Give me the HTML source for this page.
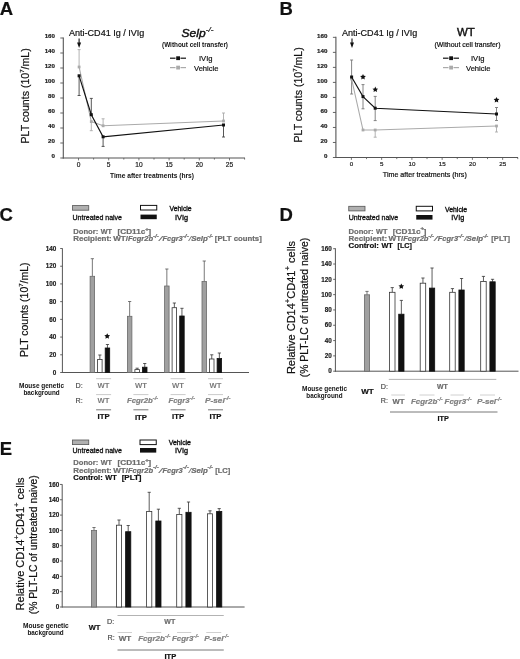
<!DOCTYPE html>
<html><head><meta charset="utf-8"><title>Figure</title>
<style>
html,body{margin:0;padding:0;background:#fff;}
body{width:520px;height:659px;overflow:hidden;}
svg{display:block;font-family:"Liberation Sans", sans-serif;filter:grayscale(100%) blur(0.3px);}
</style></head>
<body>
<svg xml:space="preserve" width="520" height="659" viewBox="0 0 520 659">
<rect width="520" height="659" fill="#fff"/>
<text style="white-space:pre" x="-0.30" y="15.00" font-size="18.5" fill="#111" font-weight="bold" stroke="#111" stroke-width="0.2">A</text>
<line x1="63.30" y1="37.60" x2="63.30" y2="158.50" stroke="#555" stroke-width="1.1"/>
<line x1="60.30" y1="158.00" x2="63.30" y2="158.00" stroke="#555" stroke-width="0.9"/>
<text style="white-space:pre" x="55.00" y="158.40" font-size="6.2" fill="#222" font-weight="bold" text-anchor="end" stroke="#222" stroke-width="0.2">0</text>
<line x1="60.30" y1="143.00" x2="63.30" y2="143.00" stroke="#555" stroke-width="0.9"/>
<text style="white-space:pre" x="55.00" y="143.40" font-size="6.2" fill="#222" font-weight="bold" text-anchor="end" stroke="#222" stroke-width="0.2">20</text>
<line x1="60.30" y1="128.00" x2="63.30" y2="128.00" stroke="#555" stroke-width="0.9"/>
<text style="white-space:pre" x="55.00" y="128.40" font-size="6.2" fill="#222" font-weight="bold" text-anchor="end" stroke="#222" stroke-width="0.2">40</text>
<line x1="60.30" y1="113.00" x2="63.30" y2="113.00" stroke="#555" stroke-width="0.9"/>
<text style="white-space:pre" x="55.00" y="113.40" font-size="6.2" fill="#222" font-weight="bold" text-anchor="end" stroke="#222" stroke-width="0.2">60</text>
<line x1="60.30" y1="98.00" x2="63.30" y2="98.00" stroke="#555" stroke-width="0.9"/>
<text style="white-space:pre" x="55.00" y="98.40" font-size="6.2" fill="#222" font-weight="bold" text-anchor="end" stroke="#222" stroke-width="0.2">80</text>
<line x1="60.30" y1="83.00" x2="63.30" y2="83.00" stroke="#555" stroke-width="0.9"/>
<text style="white-space:pre" x="55.00" y="83.40" font-size="6.2" fill="#222" font-weight="bold" text-anchor="end" stroke="#222" stroke-width="0.2">100</text>
<line x1="60.30" y1="68.00" x2="63.30" y2="68.00" stroke="#555" stroke-width="0.9"/>
<text style="white-space:pre" x="55.00" y="68.40" font-size="6.2" fill="#222" font-weight="bold" text-anchor="end" stroke="#222" stroke-width="0.2">120</text>
<line x1="60.30" y1="53.00" x2="63.30" y2="53.00" stroke="#555" stroke-width="0.9"/>
<text style="white-space:pre" x="55.00" y="53.40" font-size="6.2" fill="#222" font-weight="bold" text-anchor="end" stroke="#222" stroke-width="0.2">140</text>
<line x1="60.30" y1="38.00" x2="63.30" y2="38.00" stroke="#555" stroke-width="0.9"/>
<text style="white-space:pre" x="55.00" y="38.40" font-size="6.2" fill="#222" font-weight="bold" text-anchor="end" stroke="#222" stroke-width="0.2">160</text>
<line x1="62.80" y1="158.00" x2="245.00" y2="158.00" stroke="#555" stroke-width="1.1"/>
<line x1="78.50" y1="158.00" x2="78.50" y2="160.40" stroke="#555" stroke-width="0.8"/>
<text style="white-space:pre" x="78.50" y="166.60" font-size="6.6" fill="#222" text-anchor="middle" stroke="#222" stroke-width="0.2">0</text>
<line x1="93.60" y1="158.00" x2="93.60" y2="159.60" stroke="#555" stroke-width="0.8"/>
<line x1="108.70" y1="158.00" x2="108.70" y2="160.40" stroke="#555" stroke-width="0.8"/>
<text style="white-space:pre" x="108.70" y="166.60" font-size="6.6" fill="#222" text-anchor="middle" stroke="#222" stroke-width="0.2">5</text>
<line x1="123.80" y1="158.00" x2="123.80" y2="159.60" stroke="#555" stroke-width="0.8"/>
<line x1="138.90" y1="158.00" x2="138.90" y2="160.40" stroke="#555" stroke-width="0.8"/>
<text style="white-space:pre" x="138.90" y="166.60" font-size="6.6" fill="#222" text-anchor="middle" stroke="#222" stroke-width="0.2">10</text>
<line x1="154.00" y1="158.00" x2="154.00" y2="159.60" stroke="#555" stroke-width="0.8"/>
<line x1="169.10" y1="158.00" x2="169.10" y2="160.40" stroke="#555" stroke-width="0.8"/>
<text style="white-space:pre" x="169.10" y="166.60" font-size="6.6" fill="#222" text-anchor="middle" stroke="#222" stroke-width="0.2">15</text>
<line x1="184.20" y1="158.00" x2="184.20" y2="159.60" stroke="#555" stroke-width="0.8"/>
<line x1="199.30" y1="158.00" x2="199.30" y2="160.40" stroke="#555" stroke-width="0.8"/>
<text style="white-space:pre" x="199.30" y="166.60" font-size="6.6" fill="#222" text-anchor="middle" stroke="#222" stroke-width="0.2">20</text>
<line x1="214.40" y1="158.00" x2="214.40" y2="159.60" stroke="#555" stroke-width="0.8"/>
<line x1="229.50" y1="158.00" x2="229.50" y2="160.40" stroke="#555" stroke-width="0.8"/>
<text style="white-space:pre" x="229.50" y="166.60" font-size="6.6" fill="#222" text-anchor="middle" stroke="#222" stroke-width="0.2">25</text>
<line x1="244.60" y1="158.00" x2="244.60" y2="159.60" stroke="#555" stroke-width="0.8"/>
<text style="white-space:pre" x="110.00" y="177.70" font-size="6.6" fill="#111" font-weight="bold" textLength="84.00" lengthAdjust="spacingAndGlyphs" stroke-width="0" stroke="#111" stroke-width="0.2">Time after treatments (hrs)</text>
<g transform="translate(28.90,143.50) rotate(-90)">
<text style="white-space:pre" x="0.00" y="0.00" font-size="10.5" fill="#111" textLength="95.20" lengthAdjust="spacingAndGlyphs" stroke="#111" stroke-width="0.2"><tspan>PLT counts (10</tspan><tspan font-size="6.09" dy="-4.73">7</tspan><tspan dy="4.73">/mL)</tspan></text>
</g>
<text style="white-space:pre" x="69.00" y="35.50" font-size="9.2" fill="#111" textLength="75.40" lengthAdjust="spacingAndGlyphs" stroke="#111" stroke-width="0.2">Anti-CD41 Ig / IVIg</text>
<line x1="79.10" y1="38.50" x2="79.10" y2="44.00" stroke="#111" stroke-width="1.1"/>
<polygon points="77.10,42.5 81.10,42.5 79.10,48" fill="#111"/>
<text style="white-space:pre" x="181.60" y="36.50" font-size="11.6" fill="#111" font-style="italic" textLength="24.00" lengthAdjust="spacingAndGlyphs" stroke="#111" stroke-width="0.45">Selp</text>
<text style="white-space:pre" x="205.80" y="32.00" font-size="6.6" fill="#111" font-style="italic" textLength="7.60" lengthAdjust="spacingAndGlyphs" stroke="#111" stroke-width="0.2">-/-</text>
<text style="white-space:pre" x="162.00" y="46.80" font-size="6.4" fill="#111" font-weight="bold" textLength="66.00" lengthAdjust="spacingAndGlyphs" stroke-width="0" stroke="#111" stroke-width="0.2">(Without cell transfer)</text>
<line x1="170.00" y1="58.20" x2="175.50" y2="58.20" stroke="#111" stroke-width="1.2"/>
<line x1="180.50" y1="58.20" x2="186.00" y2="58.20" stroke="#111" stroke-width="1.2"/>
<rect x="176.20" y="56.30" width="3.80" height="3.80" fill="#111"/>
<text style="white-space:pre" x="199.00" y="61.20" font-size="7.6" fill="#111" textLength="13.50" lengthAdjust="spacingAndGlyphs" stroke="#111" stroke-width="0.2">IVIg</text>
<line x1="170.00" y1="67.60" x2="175.50" y2="67.60" stroke="#aaa" stroke-width="1.2"/>
<line x1="180.50" y1="67.60" x2="186.00" y2="67.60" stroke="#aaa" stroke-width="1.2"/>
<rect x="176.20" y="65.70" width="3.80" height="3.80" fill="#aaa"/>
<text style="white-space:pre" x="194.00" y="70.60" font-size="7.6" fill="#111" textLength="24.50" lengthAdjust="spacingAndGlyphs" stroke="#111" stroke-width="0.2">Vehicle</text>
<line x1="79.10" y1="67.00" x2="79.10" y2="49.60" stroke="#aaa" stroke-width="0.9"/>
<line x1="77.60" y1="49.60" x2="80.60" y2="49.60" stroke="#aaa" stroke-width="0.9"/>
<line x1="91.30" y1="121.60" x2="91.30" y2="130.70" stroke="#aaa" stroke-width="0.9"/>
<line x1="89.80" y1="130.70" x2="92.80" y2="130.70" stroke="#aaa" stroke-width="0.9"/>
<line x1="103.10" y1="125.80" x2="103.10" y2="118.80" stroke="#aaa" stroke-width="0.9"/>
<line x1="101.60" y1="118.80" x2="104.60" y2="118.80" stroke="#aaa" stroke-width="0.9"/>
<line x1="223.50" y1="121.00" x2="223.50" y2="113.00" stroke="#aaa" stroke-width="0.9"/>
<line x1="222.00" y1="113.00" x2="225.00" y2="113.00" stroke="#aaa" stroke-width="0.9"/>
<line x1="79.10" y1="75.80" x2="79.10" y2="95.50" stroke="#444" stroke-width="0.9"/>
<line x1="77.60" y1="95.50" x2="80.60" y2="95.50" stroke="#444" stroke-width="0.9"/>
<line x1="91.30" y1="114.70" x2="91.30" y2="98.40" stroke="#444" stroke-width="0.9"/>
<line x1="89.80" y1="98.40" x2="92.80" y2="98.40" stroke="#444" stroke-width="0.9"/>
<line x1="103.10" y1="136.80" x2="103.10" y2="146.40" stroke="#444" stroke-width="0.9"/>
<line x1="101.60" y1="146.40" x2="104.60" y2="146.40" stroke="#444" stroke-width="0.9"/>
<line x1="223.50" y1="125.00" x2="223.50" y2="137.00" stroke="#444" stroke-width="0.9"/>
<line x1="222.00" y1="137.00" x2="225.00" y2="137.00" stroke="#444" stroke-width="0.9"/>
<polyline points="79.10,67.00 91.30,121.60 103.10,125.80 223.50,121.00" fill="none" stroke="#aaa" stroke-width="1.1"/>
<rect x="77.70" y="65.60" width="2.80" height="2.80" fill="#aaa"/>
<rect x="89.90" y="120.20" width="2.80" height="2.80" fill="#aaa"/>
<rect x="101.70" y="124.40" width="2.80" height="2.80" fill="#aaa"/>
<rect x="222.10" y="119.60" width="2.80" height="2.80" fill="#aaa"/>
<polyline points="79.10,75.80 91.30,114.70 103.10,136.80 223.50,125.00" fill="none" stroke="#111" stroke-width="1.15"/>
<rect x="77.60" y="74.30" width="3.00" height="3.00" fill="#111"/>
<rect x="89.80" y="113.20" width="3.00" height="3.00" fill="#111"/>
<rect x="101.60" y="135.30" width="3.00" height="3.00" fill="#111"/>
<rect x="222.00" y="123.50" width="3.00" height="3.00" fill="#111"/>
<text style="white-space:pre" x="279.50" y="14.70" font-size="18.5" fill="#111" font-weight="bold" stroke="#111" stroke-width="0.2">B</text>
<line x1="335.90" y1="36.80" x2="335.90" y2="158.00" stroke="#555" stroke-width="1.1"/>
<line x1="332.90" y1="157.50" x2="335.90" y2="157.50" stroke="#555" stroke-width="0.9"/>
<text style="white-space:pre" x="327.40" y="157.90" font-size="6.2" fill="#222" font-weight="bold" text-anchor="end" stroke="#222" stroke-width="0.2">0</text>
<line x1="332.90" y1="142.48" x2="335.90" y2="142.48" stroke="#555" stroke-width="0.9"/>
<text style="white-space:pre" x="327.40" y="142.88" font-size="6.2" fill="#222" font-weight="bold" text-anchor="end" stroke="#222" stroke-width="0.2">20</text>
<line x1="332.90" y1="127.46" x2="335.90" y2="127.46" stroke="#555" stroke-width="0.9"/>
<text style="white-space:pre" x="327.40" y="127.86" font-size="6.2" fill="#222" font-weight="bold" text-anchor="end" stroke="#222" stroke-width="0.2">40</text>
<line x1="332.90" y1="112.44" x2="335.90" y2="112.44" stroke="#555" stroke-width="0.9"/>
<text style="white-space:pre" x="327.40" y="112.84" font-size="6.2" fill="#222" font-weight="bold" text-anchor="end" stroke="#222" stroke-width="0.2">60</text>
<line x1="332.90" y1="97.42" x2="335.90" y2="97.42" stroke="#555" stroke-width="0.9"/>
<text style="white-space:pre" x="327.40" y="97.82" font-size="6.2" fill="#222" font-weight="bold" text-anchor="end" stroke="#222" stroke-width="0.2">80</text>
<line x1="332.90" y1="82.40" x2="335.90" y2="82.40" stroke="#555" stroke-width="0.9"/>
<text style="white-space:pre" x="327.40" y="82.80" font-size="6.2" fill="#222" font-weight="bold" text-anchor="end" stroke="#222" stroke-width="0.2">100</text>
<line x1="332.90" y1="67.38" x2="335.90" y2="67.38" stroke="#555" stroke-width="0.9"/>
<text style="white-space:pre" x="327.40" y="67.78" font-size="6.2" fill="#222" font-weight="bold" text-anchor="end" stroke="#222" stroke-width="0.2">120</text>
<line x1="332.90" y1="52.36" x2="335.90" y2="52.36" stroke="#555" stroke-width="0.9"/>
<text style="white-space:pre" x="327.40" y="52.76" font-size="6.2" fill="#222" font-weight="bold" text-anchor="end" stroke="#222" stroke-width="0.2">140</text>
<line x1="332.90" y1="37.34" x2="335.90" y2="37.34" stroke="#555" stroke-width="0.9"/>
<text style="white-space:pre" x="327.40" y="37.74" font-size="6.2" fill="#222" font-weight="bold" text-anchor="end" stroke="#222" stroke-width="0.2">160</text>
<line x1="335.40" y1="157.50" x2="518.00" y2="157.50" stroke="#555" stroke-width="1.1"/>
<line x1="351.40" y1="157.50" x2="351.40" y2="159.90" stroke="#555" stroke-width="0.8"/>
<text style="white-space:pre" x="351.40" y="166.10" font-size="6.2" fill="#222" text-anchor="middle" stroke="#222" stroke-width="0.2">0</text>
<line x1="366.52" y1="157.50" x2="366.52" y2="159.10" stroke="#555" stroke-width="0.8"/>
<line x1="381.65" y1="157.50" x2="381.65" y2="159.90" stroke="#555" stroke-width="0.8"/>
<text style="white-space:pre" x="381.65" y="166.10" font-size="6.2" fill="#222" text-anchor="middle" stroke="#222" stroke-width="0.2">5</text>
<line x1="396.77" y1="157.50" x2="396.77" y2="159.10" stroke="#555" stroke-width="0.8"/>
<line x1="411.90" y1="157.50" x2="411.90" y2="159.90" stroke="#555" stroke-width="0.8"/>
<text style="white-space:pre" x="411.90" y="166.10" font-size="6.2" fill="#222" text-anchor="middle" stroke="#222" stroke-width="0.2">10</text>
<line x1="427.02" y1="157.50" x2="427.02" y2="159.10" stroke="#555" stroke-width="0.8"/>
<line x1="442.15" y1="157.50" x2="442.15" y2="159.90" stroke="#555" stroke-width="0.8"/>
<text style="white-space:pre" x="442.15" y="166.10" font-size="6.2" fill="#222" text-anchor="middle" stroke="#222" stroke-width="0.2">15</text>
<line x1="457.27" y1="157.50" x2="457.27" y2="159.10" stroke="#555" stroke-width="0.8"/>
<line x1="472.40" y1="157.50" x2="472.40" y2="159.90" stroke="#555" stroke-width="0.8"/>
<text style="white-space:pre" x="472.40" y="166.10" font-size="6.2" fill="#222" text-anchor="middle" stroke="#222" stroke-width="0.2">20</text>
<line x1="487.52" y1="157.50" x2="487.52" y2="159.10" stroke="#555" stroke-width="0.8"/>
<line x1="502.65" y1="157.50" x2="502.65" y2="159.90" stroke="#555" stroke-width="0.8"/>
<text style="white-space:pre" x="502.65" y="166.10" font-size="6.2" fill="#222" text-anchor="middle" stroke="#222" stroke-width="0.2">25</text>
<line x1="517.77" y1="157.50" x2="517.77" y2="159.10" stroke="#555" stroke-width="0.8"/>
<text style="white-space:pre" x="382.80" y="177.20" font-size="7.0" fill="#111" textLength="84.00" lengthAdjust="spacingAndGlyphs" stroke="#111" stroke-width="0.2">Time after treatments (hrs)</text>
<g transform="translate(301.90,142.50) rotate(-90)">
<text style="white-space:pre" x="0.00" y="0.00" font-size="10.5" fill="#111" textLength="95.20" lengthAdjust="spacingAndGlyphs" stroke="#111" stroke-width="0.2"><tspan>PLT counts (10</tspan><tspan font-size="6.09" dy="-4.73">7</tspan><tspan dy="4.73">/mL)</tspan></text>
</g>
<text style="white-space:pre" x="342.00" y="35.50" font-size="9.2" fill="#111" textLength="75.40" lengthAdjust="spacingAndGlyphs" stroke="#111" stroke-width="0.2">Anti-CD41 Ig / IVIg</text>
<line x1="352.00" y1="38.50" x2="352.00" y2="44.00" stroke="#111" stroke-width="1.1"/>
<polygon points="350.00,42.5 354.00,42.5 352.00,48" fill="#111"/>
<text style="white-space:pre" x="457.00" y="36.30" font-size="11.8" fill="#111" textLength="17.80" lengthAdjust="spacingAndGlyphs" stroke="#111" stroke-width="0.45">WT</text>
<text style="white-space:pre" x="434.50" y="46.80" font-size="7.0" fill="#111" textLength="66.00" lengthAdjust="spacingAndGlyphs" stroke="#111" stroke-width="0.2">(Without cell transfer)</text>
<line x1="443.00" y1="58.20" x2="448.50" y2="58.20" stroke="#111" stroke-width="1.2"/>
<line x1="453.50" y1="58.20" x2="459.00" y2="58.20" stroke="#111" stroke-width="1.2"/>
<rect x="449.20" y="56.30" width="3.80" height="3.80" fill="#111"/>
<text style="white-space:pre" x="471.00" y="61.20" font-size="7.6" fill="#111" textLength="13.50" lengthAdjust="spacingAndGlyphs" stroke="#111" stroke-width="0.2">IVIg</text>
<line x1="443.00" y1="67.60" x2="448.50" y2="67.60" stroke="#aaa" stroke-width="1.2"/>
<line x1="453.50" y1="67.60" x2="459.00" y2="67.60" stroke="#aaa" stroke-width="1.2"/>
<rect x="449.20" y="65.70" width="3.80" height="3.80" fill="#aaa"/>
<text style="white-space:pre" x="466.00" y="70.60" font-size="7.6" fill="#111" textLength="24.50" lengthAdjust="spacingAndGlyphs" stroke="#111" stroke-width="0.2">Vehicle</text>
<line x1="375.20" y1="130.00" x2="375.20" y2="137.20" stroke="#aaa" stroke-width="0.9"/>
<line x1="373.70" y1="137.20" x2="376.70" y2="137.20" stroke="#aaa" stroke-width="0.9"/>
<line x1="496.50" y1="126.00" x2="496.50" y2="132.00" stroke="#aaa" stroke-width="0.9"/>
<line x1="495.00" y1="132.00" x2="498.00" y2="132.00" stroke="#aaa" stroke-width="0.9"/>
<line x1="351.60" y1="60.00" x2="351.60" y2="94.00" stroke="#777" stroke-width="0.9"/>
<line x1="350.10" y1="94.00" x2="353.10" y2="94.00" stroke="#777" stroke-width="0.9"/>
<line x1="350.10" y1="60.00" x2="353.10" y2="60.00" stroke="#777" stroke-width="0.9"/>
<line x1="363.00" y1="84.60" x2="363.00" y2="108.80" stroke="#777" stroke-width="0.9"/>
<line x1="361.50" y1="108.80" x2="364.50" y2="108.80" stroke="#777" stroke-width="0.9"/>
<line x1="361.50" y1="84.60" x2="364.50" y2="84.60" stroke="#777" stroke-width="0.9"/>
<line x1="375.20" y1="96.40" x2="375.20" y2="120.60" stroke="#777" stroke-width="0.9"/>
<line x1="373.70" y1="120.60" x2="376.70" y2="120.60" stroke="#777" stroke-width="0.9"/>
<line x1="373.70" y1="96.40" x2="376.70" y2="96.40" stroke="#777" stroke-width="0.9"/>
<line x1="496.50" y1="107.50" x2="496.50" y2="120.50" stroke="#777" stroke-width="0.9"/>
<line x1="495.00" y1="120.50" x2="498.00" y2="120.50" stroke="#777" stroke-width="0.9"/>
<line x1="495.00" y1="107.50" x2="498.00" y2="107.50" stroke="#777" stroke-width="0.9"/>
<polyline points="351.60,79.00 363.00,130.00 375.20,130.00 496.50,126.00" fill="none" stroke="#aaa" stroke-width="1.1"/>
<rect x="350.20" y="77.60" width="2.80" height="2.80" fill="#aaa"/>
<rect x="361.60" y="128.60" width="2.80" height="2.80" fill="#aaa"/>
<rect x="373.80" y="128.60" width="2.80" height="2.80" fill="#aaa"/>
<rect x="495.10" y="124.60" width="2.80" height="2.80" fill="#aaa"/>
<polyline points="351.60,77.00 363.00,96.60 375.20,108.20 496.50,114.00" fill="none" stroke="#111" stroke-width="1.15"/>
<rect x="350.10" y="75.50" width="3.00" height="3.00" fill="#111"/>
<rect x="361.50" y="95.10" width="3.00" height="3.00" fill="#111"/>
<rect x="373.70" y="106.70" width="3.00" height="3.00" fill="#111"/>
<rect x="495.00" y="112.50" width="3.00" height="3.00" fill="#111"/>
<polygon points="363.00,74.00 363.88,75.79 365.85,76.07 364.43,77.46 364.76,79.43 363.00,78.50 361.24,79.43 361.57,77.46 360.15,76.07 362.12,75.79" fill="#111"/>
<polygon points="375.30,86.60 376.18,88.39 378.15,88.67 376.73,90.06 377.06,92.03 375.30,91.10 373.54,92.03 373.87,90.06 372.45,88.67 374.42,88.39" fill="#111"/>
<polygon points="496.50,97.00 497.38,98.79 499.35,99.07 497.93,100.46 498.26,102.43 496.50,101.50 494.74,102.43 495.07,100.46 493.65,99.07 495.62,98.79" fill="#111"/>
<text style="white-space:pre" x="-0.40" y="220.50" font-size="18.5" fill="#111" font-weight="bold" stroke="#111" stroke-width="0.2">C</text>
<rect x="72.50" y="205.60" width="16.25" height="4.60" fill="#b0b0b0" stroke="#555" stroke-width="0.8"/>
<text style="white-space:pre" x="72.50" y="219.60" font-size="7.1" fill="#111" textLength="49.50" lengthAdjust="spacingAndGlyphs" stroke="#111" stroke-width="0.3">Untreated naive</text>
<rect x="140.50" y="205.40" width="16.25" height="4.60" fill="#fff" stroke="#111" stroke-width="1.0"/>
<text style="white-space:pre" x="169.50" y="210.50" font-size="7.0" fill="#111" textLength="22.20" lengthAdjust="spacingAndGlyphs" stroke="#111" stroke-width="0.35">Vehicle</text>
<rect x="140.50" y="214.60" width="16.25" height="4.60" fill="#111"/>
<text style="white-space:pre" x="175.00" y="219.60" font-size="7.0" fill="#111" textLength="13.00" lengthAdjust="spacingAndGlyphs" stroke="#111" stroke-width="0.35">IVIg</text>
<text style="white-space:pre" x="73.25" y="233.80" font-size="7.2" fill="#6c6c6c" font-weight="bold" textLength="25.00" lengthAdjust="spacingAndGlyphs" stroke="#6c6c6c" stroke-width="0.2">Donor:</text>
<text style="white-space:pre" x="100.75" y="233.80" font-size="7.2" fill="#6c6c6c" font-weight="bold" textLength="11.30" lengthAdjust="spacingAndGlyphs" stroke="#6c6c6c" stroke-width="0.2">WT</text>
<text style="white-space:pre" x="117.55" y="233.80" font-size="7.2" fill="#6c6c6c" font-weight="bold" textLength="27.80" lengthAdjust="spacingAndGlyphs" stroke="#6c6c6c" stroke-width="0.2">[CD11c</text>
<text style="white-space:pre" x="145.25" y="230.63" font-size="4.9" fill="#6c6c6c" font-weight="bold" textLength="3.50" lengthAdjust="spacingAndGlyphs" stroke="#6c6c6c" stroke-width="0.2">+</text>
<text style="white-space:pre" x="148.25" y="233.80" font-size="7.2" fill="#6c6c6c" font-weight="bold" textLength="2.90" lengthAdjust="spacingAndGlyphs" stroke="#6c6c6c" stroke-width="0.2">]</text>
<text style="white-space:pre" x="73.25" y="240.90" font-size="7.2" fill="#6c6c6c" font-weight="bold" textLength="38.50" lengthAdjust="spacingAndGlyphs" stroke="#6c6c6c" stroke-width="0.2">Recipient:</text>
<text style="white-space:pre" x="113.25" y="240.90" font-size="7.2" fill="#6c6c6c" font-weight="bold" textLength="14.80" lengthAdjust="spacingAndGlyphs" stroke="#6c6c6c" stroke-width="0.2">WT/</text>
<text style="white-space:pre" x="127.95" y="240.90" font-size="7.2" fill="#6c6c6c" font-weight="bold" font-style="italic" textLength="25.20" lengthAdjust="spacingAndGlyphs" stroke="#6c6c6c" stroke-width="0.2">Fcgr2b</text>
<text style="white-space:pre" x="152.95" y="237.73" font-size="4.9" fill="#6c6c6c" font-weight="bold" font-style="italic" textLength="5.90" lengthAdjust="spacingAndGlyphs" stroke="#6c6c6c" stroke-width="0.2">-/-</text>
<text style="white-space:pre" x="159.05" y="240.90" font-size="7.2" fill="#6c6c6c" font-style="italic" textLength="3.30" lengthAdjust="spacingAndGlyphs" stroke="#6c6c6c" stroke-width="0.2">/</text>
<text style="white-space:pre" x="162.45" y="240.90" font-size="7.2" fill="#6c6c6c" font-weight="bold" font-style="italic" textLength="20.30" lengthAdjust="spacingAndGlyphs" stroke="#6c6c6c" stroke-width="0.2">Fcgr3</text>
<text style="white-space:pre" x="182.65" y="237.73" font-size="4.9" fill="#6c6c6c" font-weight="bold" font-style="italic" textLength="6.20" lengthAdjust="spacingAndGlyphs" stroke="#6c6c6c" stroke-width="0.2">-/-</text>
<text style="white-space:pre" x="188.85" y="240.90" font-size="7.2" fill="#6c6c6c" font-style="italic" textLength="2.50" lengthAdjust="spacingAndGlyphs" stroke="#6c6c6c" stroke-width="0.2">/</text>
<text style="white-space:pre" x="191.25" y="240.90" font-size="7.2" fill="#6c6c6c" font-weight="bold" font-style="italic" textLength="16.60" lengthAdjust="spacingAndGlyphs" stroke="#6c6c6c" stroke-width="0.2">Selp</text>
<text style="white-space:pre" x="207.45" y="237.73" font-size="4.9" fill="#6c6c6c" font-weight="bold" font-style="italic" textLength="5.60" lengthAdjust="spacingAndGlyphs" stroke="#6c6c6c" stroke-width="0.2">-/-</text>
<text style="white-space:pre" x="214.85" y="240.90" font-size="7.2" fill="#6c6c6c" font-weight="bold" textLength="46.90" lengthAdjust="spacingAndGlyphs" stroke="#6c6c6c" stroke-width="0.2">[PLT counts]</text>
<line x1="62.40" y1="248.30" x2="62.40" y2="373.00" stroke="#555" stroke-width="1.0"/>
<line x1="60.20" y1="372.50" x2="62.40" y2="372.50" stroke="#555" stroke-width="0.9"/>
<text style="white-space:pre" x="56.30" y="374.70" font-size="6.3" fill="#222" font-weight="bold" text-anchor="end" stroke="#222" stroke-width="0.2">0</text>
<line x1="60.20" y1="354.79" x2="62.40" y2="354.79" stroke="#555" stroke-width="0.9"/>
<text style="white-space:pre" x="56.30" y="356.99" font-size="6.3" fill="#222" font-weight="bold" text-anchor="end" stroke="#222" stroke-width="0.2">20</text>
<line x1="60.20" y1="337.07" x2="62.40" y2="337.07" stroke="#555" stroke-width="0.9"/>
<text style="white-space:pre" x="56.30" y="339.27" font-size="6.3" fill="#222" font-weight="bold" text-anchor="end" stroke="#222" stroke-width="0.2">40</text>
<line x1="60.20" y1="319.36" x2="62.40" y2="319.36" stroke="#555" stroke-width="0.9"/>
<text style="white-space:pre" x="56.30" y="321.56" font-size="6.3" fill="#222" font-weight="bold" text-anchor="end" stroke="#222" stroke-width="0.2">60</text>
<line x1="60.20" y1="301.64" x2="62.40" y2="301.64" stroke="#555" stroke-width="0.9"/>
<text style="white-space:pre" x="56.30" y="303.84" font-size="6.3" fill="#222" font-weight="bold" text-anchor="end" stroke="#222" stroke-width="0.2">80</text>
<line x1="60.20" y1="283.93" x2="62.40" y2="283.93" stroke="#555" stroke-width="0.9"/>
<text style="white-space:pre" x="56.30" y="286.13" font-size="6.3" fill="#222" font-weight="bold" text-anchor="end" stroke="#222" stroke-width="0.2">100</text>
<line x1="60.20" y1="266.22" x2="62.40" y2="266.22" stroke="#555" stroke-width="0.9"/>
<text style="white-space:pre" x="56.30" y="268.42" font-size="6.3" fill="#222" font-weight="bold" text-anchor="end" stroke="#222" stroke-width="0.2">120</text>
<line x1="60.20" y1="248.50" x2="62.40" y2="248.50" stroke="#555" stroke-width="0.9"/>
<text style="white-space:pre" x="56.30" y="250.70" font-size="6.3" fill="#222" font-weight="bold" text-anchor="end" stroke="#222" stroke-width="0.2">140</text>
<line x1="62.00" y1="372.50" x2="249.00" y2="372.50" stroke="#555" stroke-width="1.0"/>
<g transform="translate(28.10,356.90) rotate(-90)">
<text style="white-space:pre" x="0.00" y="0.00" font-size="10.5" fill="#111" textLength="94.50" lengthAdjust="spacingAndGlyphs" stroke="#111" stroke-width="0.2"><tspan>PLT counts (10</tspan><tspan font-size="6.09" dy="-4.73">7</tspan><tspan dy="4.73">/mL)</tspan></text>
</g>
<line x1="92.35" y1="258.70" x2="92.35" y2="276.30" stroke="#555" stroke-width="0.8"/>
<line x1="90.75" y1="258.70" x2="93.95" y2="258.70" stroke="#555" stroke-width="0.8"/>
<rect x="90.10" y="276.30" width="4.50" height="96.20" fill="#a0a0a0" stroke="#6a6a6a" stroke-width="0.8"/>
<line x1="99.85" y1="355.00" x2="99.85" y2="359.50" stroke="#333" stroke-width="0.8"/>
<line x1="98.25" y1="355.00" x2="101.45" y2="355.00" stroke="#333" stroke-width="0.8"/>
<rect x="97.60" y="359.50" width="4.50" height="13.00" fill="#fff" stroke="#333" stroke-width="0.8"/>
<line x1="107.45" y1="344.50" x2="107.45" y2="348.00" stroke="#333" stroke-width="0.8"/>
<line x1="105.85" y1="344.50" x2="109.05" y2="344.50" stroke="#333" stroke-width="0.8"/>
<rect x="105.20" y="348.00" width="4.50" height="24.50" fill="#111" stroke="#111" stroke-width="0.8"/>
<line x1="129.65" y1="301.50" x2="129.65" y2="316.30" stroke="#555" stroke-width="0.8"/>
<line x1="128.05" y1="301.50" x2="131.25" y2="301.50" stroke="#555" stroke-width="0.8"/>
<rect x="127.40" y="316.30" width="4.50" height="56.20" fill="#a0a0a0" stroke="#6a6a6a" stroke-width="0.8"/>
<line x1="137.15" y1="368.20" x2="137.15" y2="369.60" stroke="#333" stroke-width="0.8"/>
<line x1="135.55" y1="368.20" x2="138.75" y2="368.20" stroke="#333" stroke-width="0.8"/>
<rect x="134.90" y="369.60" width="4.50" height="2.90" fill="#fff" stroke="#333" stroke-width="0.8"/>
<line x1="144.75" y1="363.50" x2="144.75" y2="367.20" stroke="#333" stroke-width="0.8"/>
<line x1="143.15" y1="363.50" x2="146.35" y2="363.50" stroke="#333" stroke-width="0.8"/>
<rect x="142.50" y="367.20" width="4.50" height="5.30" fill="#111" stroke="#111" stroke-width="0.8"/>
<line x1="166.85" y1="269.00" x2="166.85" y2="286.00" stroke="#555" stroke-width="0.8"/>
<line x1="165.25" y1="269.00" x2="168.45" y2="269.00" stroke="#555" stroke-width="0.8"/>
<rect x="164.60" y="286.00" width="4.50" height="86.50" fill="#a0a0a0" stroke="#6a6a6a" stroke-width="0.8"/>
<line x1="174.35" y1="303.00" x2="174.35" y2="307.70" stroke="#333" stroke-width="0.8"/>
<line x1="172.75" y1="303.00" x2="175.95" y2="303.00" stroke="#333" stroke-width="0.8"/>
<rect x="172.10" y="307.70" width="4.50" height="64.80" fill="#fff" stroke="#333" stroke-width="0.8"/>
<line x1="181.95" y1="308.30" x2="181.95" y2="316.00" stroke="#333" stroke-width="0.8"/>
<line x1="180.35" y1="308.30" x2="183.55" y2="308.30" stroke="#333" stroke-width="0.8"/>
<rect x="179.70" y="316.00" width="4.50" height="56.50" fill="#111" stroke="#111" stroke-width="0.8"/>
<line x1="204.25" y1="261.00" x2="204.25" y2="281.50" stroke="#555" stroke-width="0.8"/>
<line x1="202.65" y1="261.00" x2="205.85" y2="261.00" stroke="#555" stroke-width="0.8"/>
<rect x="202.00" y="281.50" width="4.50" height="91.00" fill="#a0a0a0" stroke="#6a6a6a" stroke-width="0.8"/>
<line x1="211.75" y1="354.80" x2="211.75" y2="359.00" stroke="#333" stroke-width="0.8"/>
<line x1="210.15" y1="354.80" x2="213.35" y2="354.80" stroke="#333" stroke-width="0.8"/>
<rect x="209.50" y="359.00" width="4.50" height="13.50" fill="#fff" stroke="#333" stroke-width="0.8"/>
<line x1="219.35" y1="353.00" x2="219.35" y2="358.50" stroke="#333" stroke-width="0.8"/>
<line x1="217.75" y1="353.00" x2="220.95" y2="353.00" stroke="#333" stroke-width="0.8"/>
<rect x="217.10" y="358.50" width="4.50" height="14.00" fill="#111" stroke="#111" stroke-width="0.8"/>
<polygon points="107.20,333.30 108.08,335.09 110.05,335.37 108.63,336.76 108.96,338.73 107.20,337.80 105.44,338.73 105.77,336.76 104.35,335.37 106.32,335.09" fill="#111"/>
<text style="white-space:pre" x="41.50" y="388.40" font-size="6.6" fill="#111" font-weight="bold" text-anchor="middle" textLength="45.00" lengthAdjust="spacingAndGlyphs" stroke-width="0" stroke="#111" stroke-width="0.2">Mouse genetic</text>
<text style="white-space:pre" x="41.60" y="395.00" font-size="6.6" fill="#111" font-weight="bold" text-anchor="middle" textLength="36.20" lengthAdjust="spacingAndGlyphs" stroke-width="0" stroke="#111" stroke-width="0.2">background</text>
<text style="white-space:pre" x="75.60" y="388.30" font-size="7.4" fill="#4a4a4a" textLength="7.20" lengthAdjust="spacingAndGlyphs" stroke="#4a4a4a" stroke-width="0.2">D:</text>
<text style="white-space:pre" x="75.60" y="402.90" font-size="7.4" fill="#4a4a4a" textLength="7.20" lengthAdjust="spacingAndGlyphs" stroke="#4a4a4a" stroke-width="0.2">R:</text>
<line x1="96.10" y1="378.70" x2="111.10" y2="378.70" stroke="#bbb" stroke-width="0.8"/>
<line x1="96.10" y1="394.60" x2="111.10" y2="394.60" stroke="#bbb" stroke-width="0.8"/>
<line x1="96.10" y1="409.80" x2="111.10" y2="409.80" stroke="#555" stroke-width="0.8"/>
<text style="white-space:pre" x="103.60" y="388.30" font-size="7.6" fill="#7a7a7a" font-weight="bold" text-anchor="middle" textLength="12.00" lengthAdjust="spacingAndGlyphs" stroke-width="0" stroke="#7a7a7a" stroke-width="0.2">WT</text>
<text style="white-space:pre" x="103.60" y="402.90" font-size="7.6" fill="#7a7a7a" font-weight="bold" text-anchor="middle" textLength="12.00" lengthAdjust="spacingAndGlyphs" stroke-width="0" stroke="#7a7a7a" stroke-width="0.2">WT</text>
<text style="white-space:pre" x="103.60" y="418.60" font-size="7.6" fill="#111" font-weight="bold" text-anchor="middle" textLength="12.00" lengthAdjust="spacingAndGlyphs" stroke="#111" stroke-width="0.2">ITP</text>
<line x1="133.40" y1="378.70" x2="148.40" y2="378.70" stroke="#bbb" stroke-width="0.8"/>
<line x1="133.40" y1="394.60" x2="148.40" y2="394.60" stroke="#bbb" stroke-width="0.8"/>
<line x1="133.40" y1="409.80" x2="148.40" y2="409.80" stroke="#555" stroke-width="0.8"/>
<text style="white-space:pre" x="140.90" y="388.30" font-size="7.6" fill="#7a7a7a" font-weight="bold" text-anchor="middle" textLength="12.00" lengthAdjust="spacingAndGlyphs" stroke-width="0" stroke="#7a7a7a" stroke-width="0.2">WT</text>
<text style="white-space:pre" x="126.90" y="403.30" font-size="7.4" fill="#808080" textLength="31.20" lengthAdjust="spacingAndGlyphs" stroke="#808080" stroke-width="0.2"><tspan font-weight="bold" font-style="italic">Fcgr2b</tspan><tspan font-weight="bold" font-style="italic" font-size="5.33" dy="-3.11">-/-</tspan></text>
<text style="white-space:pre" x="140.90" y="420.10" font-size="7.6" fill="#111" font-weight="bold" text-anchor="middle" textLength="12.00" lengthAdjust="spacingAndGlyphs" stroke="#111" stroke-width="0.2">ITP</text>
<line x1="170.60" y1="378.70" x2="185.60" y2="378.70" stroke="#bbb" stroke-width="0.8"/>
<line x1="170.60" y1="394.60" x2="185.60" y2="394.60" stroke="#bbb" stroke-width="0.8"/>
<line x1="170.60" y1="409.80" x2="185.60" y2="409.80" stroke="#555" stroke-width="0.8"/>
<text style="white-space:pre" x="178.10" y="388.30" font-size="7.6" fill="#7a7a7a" font-weight="bold" text-anchor="middle" textLength="12.00" lengthAdjust="spacingAndGlyphs" stroke-width="0" stroke="#7a7a7a" stroke-width="0.2">WT</text>
<text style="white-space:pre" x="168.50" y="403.30" font-size="7.4" fill="#808080" textLength="26.50" lengthAdjust="spacingAndGlyphs" stroke="#808080" stroke-width="0.2"><tspan font-weight="bold" font-style="italic">Fcgr3</tspan><tspan font-weight="bold" font-style="italic" font-size="5.33" dy="-3.11">-/-</tspan></text>
<text style="white-space:pre" x="178.10" y="418.60" font-size="7.6" fill="#111" font-weight="bold" text-anchor="middle" textLength="12.00" lengthAdjust="spacingAndGlyphs" stroke="#111" stroke-width="0.2">ITP</text>
<line x1="208.00" y1="378.70" x2="223.00" y2="378.70" stroke="#bbb" stroke-width="0.8"/>
<line x1="208.00" y1="394.60" x2="223.00" y2="394.60" stroke="#bbb" stroke-width="0.8"/>
<line x1="208.00" y1="409.80" x2="223.00" y2="409.80" stroke="#555" stroke-width="0.8"/>
<text style="white-space:pre" x="215.50" y="388.30" font-size="7.6" fill="#7a7a7a" font-weight="bold" text-anchor="middle" textLength="12.00" lengthAdjust="spacingAndGlyphs" stroke-width="0" stroke="#7a7a7a" stroke-width="0.2">WT</text>
<text style="white-space:pre" x="205.00" y="403.30" font-size="7.4" fill="#808080" textLength="25.40" lengthAdjust="spacingAndGlyphs" stroke="#808080" stroke-width="0.2"><tspan font-weight="bold" font-style="italic">P-sel</tspan><tspan font-weight="bold" font-style="italic" font-size="5.33" dy="-3.11">-/-</tspan></text>
<text style="white-space:pre" x="215.50" y="418.60" font-size="7.6" fill="#111" font-weight="bold" text-anchor="middle" textLength="12.00" lengthAdjust="spacingAndGlyphs" stroke="#111" stroke-width="0.2">ITP</text>
<text style="white-space:pre" x="279.60" y="220.50" font-size="18.5" fill="#111" font-weight="bold" stroke="#111" stroke-width="0.2">D</text>
<rect x="348.75" y="206.30" width="16.25" height="4.60" fill="#b0b0b0" stroke="#555" stroke-width="0.8"/>
<text style="white-space:pre" x="348.75" y="220.10" font-size="7.1" fill="#111" textLength="49.50" lengthAdjust="spacingAndGlyphs" stroke="#111" stroke-width="0.3">Untreated naive</text>
<rect x="416.25" y="206.30" width="16.25" height="4.60" fill="#fff" stroke="#111" stroke-width="1.0"/>
<text style="white-space:pre" x="445.00" y="211.50" font-size="7.0" fill="#111" textLength="22.20" lengthAdjust="spacingAndGlyphs" stroke="#111" stroke-width="0.35">Vehicle</text>
<rect x="416.25" y="215.00" width="16.25" height="4.60" fill="#111"/>
<text style="white-space:pre" x="451.25" y="219.60" font-size="7.0" fill="#111" textLength="13.00" lengthAdjust="spacingAndGlyphs" stroke="#111" stroke-width="0.35">IVIg</text>
<text style="white-space:pre" x="348.55" y="233.60" font-size="7.2" fill="#6c6c6c" font-weight="bold" textLength="25.00" lengthAdjust="spacingAndGlyphs" stroke="#6c6c6c" stroke-width="0.2">Donor:</text>
<text style="white-space:pre" x="376.05" y="233.60" font-size="7.2" fill="#6c6c6c" font-weight="bold" textLength="11.30" lengthAdjust="spacingAndGlyphs" stroke="#6c6c6c" stroke-width="0.2">WT</text>
<text style="white-space:pre" x="392.85" y="233.60" font-size="7.2" fill="#6c6c6c" font-weight="bold" textLength="27.80" lengthAdjust="spacingAndGlyphs" stroke="#6c6c6c" stroke-width="0.2">[CD11c</text>
<text style="white-space:pre" x="420.55" y="230.43" font-size="4.9" fill="#6c6c6c" font-weight="bold" textLength="3.50" lengthAdjust="spacingAndGlyphs" stroke="#6c6c6c" stroke-width="0.2">+</text>
<text style="white-space:pre" x="423.55" y="233.60" font-size="7.2" fill="#6c6c6c" font-weight="bold" textLength="2.90" lengthAdjust="spacingAndGlyphs" stroke="#6c6c6c" stroke-width="0.2">]</text>
<text style="white-space:pre" x="348.55" y="240.90" font-size="7.2" fill="#6c6c6c" font-weight="bold" textLength="38.50" lengthAdjust="spacingAndGlyphs" stroke="#6c6c6c" stroke-width="0.2">Recipient:</text>
<text style="white-space:pre" x="388.55" y="240.90" font-size="7.2" fill="#6c6c6c" font-weight="bold" textLength="14.80" lengthAdjust="spacingAndGlyphs" stroke="#6c6c6c" stroke-width="0.2">WT/</text>
<text style="white-space:pre" x="403.25" y="240.90" font-size="7.2" fill="#6c6c6c" font-weight="bold" font-style="italic" textLength="25.20" lengthAdjust="spacingAndGlyphs" stroke="#6c6c6c" stroke-width="0.2">Fcgr2b</text>
<text style="white-space:pre" x="428.25" y="237.73" font-size="4.9" fill="#6c6c6c" font-weight="bold" font-style="italic" textLength="5.90" lengthAdjust="spacingAndGlyphs" stroke="#6c6c6c" stroke-width="0.2">-/-</text>
<text style="white-space:pre" x="434.35" y="240.90" font-size="7.2" fill="#6c6c6c" font-style="italic" textLength="3.30" lengthAdjust="spacingAndGlyphs" stroke="#6c6c6c" stroke-width="0.2">/</text>
<text style="white-space:pre" x="437.75" y="240.90" font-size="7.2" fill="#6c6c6c" font-weight="bold" font-style="italic" textLength="20.30" lengthAdjust="spacingAndGlyphs" stroke="#6c6c6c" stroke-width="0.2">Fcgr3</text>
<text style="white-space:pre" x="457.95" y="237.73" font-size="4.9" fill="#6c6c6c" font-weight="bold" font-style="italic" textLength="6.20" lengthAdjust="spacingAndGlyphs" stroke="#6c6c6c" stroke-width="0.2">-/-</text>
<text style="white-space:pre" x="464.15" y="240.90" font-size="7.2" fill="#6c6c6c" font-style="italic" textLength="2.50" lengthAdjust="spacingAndGlyphs" stroke="#6c6c6c" stroke-width="0.2">/</text>
<text style="white-space:pre" x="466.55" y="240.90" font-size="7.2" fill="#6c6c6c" font-weight="bold" font-style="italic" textLength="16.60" lengthAdjust="spacingAndGlyphs" stroke="#6c6c6c" stroke-width="0.2">Selp</text>
<text style="white-space:pre" x="482.75" y="237.73" font-size="4.9" fill="#6c6c6c" font-weight="bold" font-style="italic" textLength="5.60" lengthAdjust="spacingAndGlyphs" stroke="#6c6c6c" stroke-width="0.2">-/-</text>
<text style="white-space:pre" x="491.35" y="240.90" font-size="7.2" fill="#6c6c6c" font-weight="bold" textLength="18.70" lengthAdjust="spacingAndGlyphs" stroke="#6c6c6c" stroke-width="0.2">[PLT]</text>
<text style="white-space:pre" x="348.55" y="248.30" font-size="7.2" fill="#111" font-weight="bold" textLength="30.40" lengthAdjust="spacingAndGlyphs" stroke="#111" stroke-width="0.2">Control:</text>
<text style="white-space:pre" x="381.45" y="248.30" font-size="7.2" fill="#111" font-weight="bold" textLength="11.40" lengthAdjust="spacingAndGlyphs" stroke="#111" stroke-width="0.2">WT</text>
<text style="white-space:pre" x="397.55" y="248.30" font-size="7.2" fill="#111" font-weight="bold" textLength="14.30" lengthAdjust="spacingAndGlyphs" stroke="#111" stroke-width="0.2">[LC]</text>
<line x1="335.40" y1="248.30" x2="335.40" y2="371.70" stroke="#555" stroke-width="1.0"/>
<line x1="333.20" y1="371.20" x2="335.40" y2="371.20" stroke="#555" stroke-width="0.9"/>
<text style="white-space:pre" x="331.80" y="373.40" font-size="6.3" fill="#222" font-weight="bold" text-anchor="end" stroke="#222" stroke-width="0.2">0</text>
<line x1="333.20" y1="355.89" x2="335.40" y2="355.89" stroke="#555" stroke-width="0.9"/>
<text style="white-space:pre" x="331.80" y="358.09" font-size="6.3" fill="#222" font-weight="bold" text-anchor="end" stroke="#222" stroke-width="0.2">20</text>
<line x1="333.20" y1="340.58" x2="335.40" y2="340.58" stroke="#555" stroke-width="0.9"/>
<text style="white-space:pre" x="331.80" y="342.78" font-size="6.3" fill="#222" font-weight="bold" text-anchor="end" stroke="#222" stroke-width="0.2">40</text>
<line x1="333.20" y1="325.26" x2="335.40" y2="325.26" stroke="#555" stroke-width="0.9"/>
<text style="white-space:pre" x="331.80" y="327.46" font-size="6.3" fill="#222" font-weight="bold" text-anchor="end" stroke="#222" stroke-width="0.2">60</text>
<line x1="333.20" y1="309.95" x2="335.40" y2="309.95" stroke="#555" stroke-width="0.9"/>
<text style="white-space:pre" x="331.80" y="312.15" font-size="6.3" fill="#222" font-weight="bold" text-anchor="end" stroke="#222" stroke-width="0.2">80</text>
<line x1="333.20" y1="294.64" x2="335.40" y2="294.64" stroke="#555" stroke-width="0.9"/>
<text style="white-space:pre" x="331.80" y="296.84" font-size="6.3" fill="#222" font-weight="bold" text-anchor="end" stroke="#222" stroke-width="0.2">100</text>
<line x1="333.20" y1="279.33" x2="335.40" y2="279.33" stroke="#555" stroke-width="0.9"/>
<text style="white-space:pre" x="331.80" y="281.53" font-size="6.3" fill="#222" font-weight="bold" text-anchor="end" stroke="#222" stroke-width="0.2">120</text>
<line x1="333.20" y1="264.02" x2="335.40" y2="264.02" stroke="#555" stroke-width="0.9"/>
<text style="white-space:pre" x="331.80" y="266.22" font-size="6.3" fill="#222" font-weight="bold" text-anchor="end" stroke="#222" stroke-width="0.2">140</text>
<line x1="333.20" y1="248.70" x2="335.40" y2="248.70" stroke="#555" stroke-width="0.9"/>
<text style="white-space:pre" x="331.80" y="250.90" font-size="6.3" fill="#222" font-weight="bold" text-anchor="end" stroke="#222" stroke-width="0.2">160</text>
<line x1="335.00" y1="371.20" x2="518.50" y2="371.20" stroke="#555" stroke-width="1.0"/>
<g transform="translate(294.70,374.10) rotate(-90)">
<text style="white-space:pre" x="0.00" y="0.00" font-size="10.5" fill="#111" textLength="133.20" lengthAdjust="spacingAndGlyphs" stroke="#111" stroke-width="0.2"><tspan>Relative CD14</tspan><tspan font-size="7.35" dy="-4.41">+</tspan><tspan dy="4.41">CD41</tspan><tspan font-size="7.35" dy="-4.41">+</tspan><tspan dy="4.41"> cells</tspan></text>
</g>
<g transform="translate(307.50,377.30) rotate(-90)">
<text style="white-space:pre" x="0.00" y="0.00" font-size="10.5" fill="#111" textLength="139.60" lengthAdjust="spacingAndGlyphs" stroke="#111" stroke-width="0.2"><tspan>(% PLT-LC of untreated naive)</tspan></text>
</g>
<line x1="367.00" y1="291.40" x2="367.00" y2="294.80" stroke="#555" stroke-width="0.8"/>
<line x1="365.40" y1="291.40" x2="368.60" y2="291.40" stroke="#555" stroke-width="0.8"/>
<rect x="364.40" y="294.80" width="5.20" height="76.40" fill="#a0a0a0" stroke="#6a6a6a" stroke-width="0.8"/>
<line x1="392.25" y1="287.60" x2="392.25" y2="292.30" stroke="#333" stroke-width="0.8"/>
<line x1="390.65" y1="287.60" x2="393.85" y2="287.60" stroke="#333" stroke-width="0.8"/>
<rect x="389.50" y="292.30" width="5.50" height="78.90" fill="#fff" stroke="#333" stroke-width="0.8"/>
<line x1="401.35" y1="300.40" x2="401.35" y2="314.20" stroke="#333" stroke-width="0.8"/>
<line x1="399.75" y1="300.40" x2="402.95" y2="300.40" stroke="#333" stroke-width="0.8"/>
<rect x="398.70" y="314.20" width="5.30" height="57.00" fill="#111" stroke="#111" stroke-width="0.8"/>
<line x1="422.95" y1="278.00" x2="422.95" y2="283.20" stroke="#333" stroke-width="0.8"/>
<line x1="421.35" y1="278.00" x2="424.55" y2="278.00" stroke="#333" stroke-width="0.8"/>
<rect x="420.20" y="283.20" width="5.50" height="88.00" fill="#fff" stroke="#333" stroke-width="0.8"/>
<line x1="432.05" y1="268.00" x2="432.05" y2="288.10" stroke="#333" stroke-width="0.8"/>
<line x1="430.45" y1="268.00" x2="433.65" y2="268.00" stroke="#333" stroke-width="0.8"/>
<rect x="429.40" y="288.10" width="5.30" height="83.10" fill="#111" stroke="#111" stroke-width="0.8"/>
<line x1="452.45" y1="288.60" x2="452.45" y2="292.30" stroke="#333" stroke-width="0.8"/>
<line x1="450.85" y1="288.60" x2="454.05" y2="288.60" stroke="#333" stroke-width="0.8"/>
<rect x="449.70" y="292.30" width="5.50" height="78.90" fill="#fff" stroke="#333" stroke-width="0.8"/>
<line x1="461.55" y1="278.50" x2="461.55" y2="290.00" stroke="#333" stroke-width="0.8"/>
<line x1="459.95" y1="278.50" x2="463.15" y2="278.50" stroke="#333" stroke-width="0.8"/>
<rect x="458.90" y="290.00" width="5.30" height="81.20" fill="#111" stroke="#111" stroke-width="0.8"/>
<line x1="483.45" y1="276.40" x2="483.45" y2="281.40" stroke="#333" stroke-width="0.8"/>
<line x1="481.85" y1="276.40" x2="485.05" y2="276.40" stroke="#333" stroke-width="0.8"/>
<rect x="480.70" y="281.40" width="5.50" height="89.80" fill="#fff" stroke="#333" stroke-width="0.8"/>
<line x1="492.55" y1="279.30" x2="492.55" y2="281.80" stroke="#333" stroke-width="0.8"/>
<line x1="490.95" y1="279.30" x2="494.15" y2="279.30" stroke="#333" stroke-width="0.8"/>
<rect x="489.90" y="281.80" width="5.30" height="89.40" fill="#111" stroke="#111" stroke-width="0.8"/>
<polygon points="401.30,283.40 402.18,285.19 404.15,285.47 402.73,286.86 403.06,288.83 401.30,287.90 399.54,288.83 399.87,286.86 398.45,285.47 400.42,285.19" fill="#111"/>
<text style="white-space:pre" x="324.50" y="391.20" font-size="6.6" fill="#111" font-weight="bold" text-anchor="middle" textLength="45.00" lengthAdjust="spacingAndGlyphs" stroke-width="0" stroke="#111" stroke-width="0.2">Mouse genetic</text>
<text style="white-space:pre" x="324.40" y="397.60" font-size="6.6" fill="#111" font-weight="bold" text-anchor="middle" textLength="36.20" lengthAdjust="spacingAndGlyphs" stroke-width="0" stroke="#111" stroke-width="0.2">background</text>
<text style="white-space:pre" x="367.50" y="393.80" font-size="7.8" fill="#111" font-weight="bold" text-anchor="middle" textLength="12.50" lengthAdjust="spacingAndGlyphs" stroke="#111" stroke-width="0.2">WT</text>
<text style="white-space:pre" x="380.80" y="388.80" font-size="7.4" fill="#4a4a4a" textLength="7.20" lengthAdjust="spacingAndGlyphs" stroke="#4a4a4a" stroke-width="0.2">D:</text>
<text style="white-space:pre" x="380.80" y="403.00" font-size="7.4" fill="#4a4a4a" textLength="7.20" lengthAdjust="spacingAndGlyphs" stroke="#4a4a4a" stroke-width="0.2">R:</text>
<line x1="388.80" y1="379.40" x2="496.30" y2="379.40" stroke="#aaa" stroke-width="0.9"/>
<text style="white-space:pre" x="442.30" y="388.80" font-size="7.3" fill="#6c6c6c" font-weight="bold" text-anchor="middle" textLength="10.80" lengthAdjust="spacingAndGlyphs" stroke="#6c6c6c" stroke-width="0.2">WT</text>
<line x1="391.25" y1="395.00" x2="405.00" y2="395.00" stroke="#c4c4c4" stroke-width="0.8"/>
<line x1="419.50" y1="395.00" x2="434.50" y2="395.00" stroke="#c4c4c4" stroke-width="0.8"/>
<line x1="450.50" y1="395.00" x2="463.75" y2="395.00" stroke="#c4c4c4" stroke-width="0.8"/>
<line x1="480.00" y1="395.00" x2="495.00" y2="395.00" stroke="#c4c4c4" stroke-width="0.8"/>
<text style="white-space:pre" x="398.50" y="403.80" font-size="7.6" fill="#6c6c6c" font-weight="bold" text-anchor="middle" textLength="12.00" lengthAdjust="spacingAndGlyphs" stroke="#6c6c6c" stroke-width="0.2">WT</text>
<text style="white-space:pre" x="410.90" y="403.90" font-size="7.4" fill="#808080" textLength="31.80" lengthAdjust="spacingAndGlyphs" stroke="#808080" stroke-width="0.2"><tspan font-weight="bold" font-style="italic">Fcgr2b</tspan><tspan font-weight="bold" font-style="italic" font-size="5.33" dy="-3.11">-/-</tspan></text>
<text style="white-space:pre" x="444.60" y="403.90" font-size="7.4" fill="#808080" textLength="27.00" lengthAdjust="spacingAndGlyphs" stroke="#808080" stroke-width="0.2"><tspan font-weight="bold" font-style="italic">Fcgr3</tspan><tspan font-weight="bold" font-style="italic" font-size="5.33" dy="-3.11">-/-</tspan></text>
<text style="white-space:pre" x="476.90" y="403.90" font-size="7.4" fill="#808080" textLength="24.70" lengthAdjust="spacingAndGlyphs" stroke="#808080" stroke-width="0.2"><tspan font-weight="bold" font-style="italic">P-sel</tspan><tspan font-weight="bold" font-style="italic" font-size="5.33" dy="-3.11">-/-</tspan></text>
<line x1="390.00" y1="412.00" x2="497.50" y2="412.00" stroke="#555" stroke-width="0.8"/>
<text style="white-space:pre" x="443.10" y="420.60" font-size="7.6" fill="#111" font-weight="bold" text-anchor="middle" textLength="11.30" lengthAdjust="spacingAndGlyphs" stroke="#111" stroke-width="0.2">ITP</text>
<text style="white-space:pre" x="-0.20" y="455.00" font-size="18.5" fill="#111" font-weight="bold" stroke="#111" stroke-width="0.2">E</text>
<rect x="72.50" y="440.00" width="16.25" height="4.60" fill="#b0b0b0" stroke="#555" stroke-width="0.8"/>
<text style="white-space:pre" x="72.50" y="453.30" font-size="7.1" fill="#111" textLength="49.50" lengthAdjust="spacingAndGlyphs" stroke="#111" stroke-width="0.3">Untreated naive</text>
<rect x="140.00" y="440.00" width="16.25" height="4.60" fill="#fff" stroke="#111" stroke-width="1.0"/>
<text style="white-space:pre" x="168.75" y="444.50" font-size="7.0" fill="#111" textLength="22.20" lengthAdjust="spacingAndGlyphs" stroke="#111" stroke-width="0.35">Vehicle</text>
<rect x="140.00" y="448.00" width="16.25" height="4.60" fill="#111"/>
<text style="white-space:pre" x="175.00" y="452.60" font-size="7.0" fill="#111" textLength="13.00" lengthAdjust="spacingAndGlyphs" stroke="#111" stroke-width="0.35">IVIg</text>
<text style="white-space:pre" x="73.25" y="465.30" font-size="7.2" fill="#6c6c6c" font-weight="bold" textLength="25.00" lengthAdjust="spacingAndGlyphs" stroke="#6c6c6c" stroke-width="0.2">Donor:</text>
<text style="white-space:pre" x="100.75" y="465.30" font-size="7.2" fill="#6c6c6c" font-weight="bold" textLength="11.30" lengthAdjust="spacingAndGlyphs" stroke="#6c6c6c" stroke-width="0.2">WT</text>
<text style="white-space:pre" x="117.55" y="465.30" font-size="7.2" fill="#6c6c6c" font-weight="bold" textLength="27.80" lengthAdjust="spacingAndGlyphs" stroke="#6c6c6c" stroke-width="0.2">[CD11c</text>
<text style="white-space:pre" x="145.25" y="462.13" font-size="4.9" fill="#6c6c6c" font-weight="bold" textLength="3.50" lengthAdjust="spacingAndGlyphs" stroke="#6c6c6c" stroke-width="0.2">+</text>
<text style="white-space:pre" x="148.25" y="465.30" font-size="7.2" fill="#6c6c6c" font-weight="bold" textLength="2.90" lengthAdjust="spacingAndGlyphs" stroke="#6c6c6c" stroke-width="0.2">]</text>
<text style="white-space:pre" x="73.25" y="472.50" font-size="7.2" fill="#6c6c6c" font-weight="bold" textLength="38.50" lengthAdjust="spacingAndGlyphs" stroke="#6c6c6c" stroke-width="0.2">Recipient:</text>
<text style="white-space:pre" x="113.25" y="472.50" font-size="7.2" fill="#6c6c6c" font-weight="bold" textLength="14.80" lengthAdjust="spacingAndGlyphs" stroke="#6c6c6c" stroke-width="0.2">WT/</text>
<text style="white-space:pre" x="127.95" y="472.50" font-size="7.2" fill="#6c6c6c" font-weight="bold" font-style="italic" textLength="25.20" lengthAdjust="spacingAndGlyphs" stroke="#6c6c6c" stroke-width="0.2">Fcgr2b</text>
<text style="white-space:pre" x="152.95" y="469.33" font-size="4.9" fill="#6c6c6c" font-weight="bold" font-style="italic" textLength="5.90" lengthAdjust="spacingAndGlyphs" stroke="#6c6c6c" stroke-width="0.2">-/-</text>
<text style="white-space:pre" x="159.05" y="472.50" font-size="7.2" fill="#6c6c6c" font-style="italic" textLength="3.30" lengthAdjust="spacingAndGlyphs" stroke="#6c6c6c" stroke-width="0.2">/</text>
<text style="white-space:pre" x="162.45" y="472.50" font-size="7.2" fill="#6c6c6c" font-weight="bold" font-style="italic" textLength="20.30" lengthAdjust="spacingAndGlyphs" stroke="#6c6c6c" stroke-width="0.2">Fcgr3</text>
<text style="white-space:pre" x="182.65" y="469.33" font-size="4.9" fill="#6c6c6c" font-weight="bold" font-style="italic" textLength="6.20" lengthAdjust="spacingAndGlyphs" stroke="#6c6c6c" stroke-width="0.2">-/-</text>
<text style="white-space:pre" x="188.85" y="472.50" font-size="7.2" fill="#6c6c6c" font-style="italic" textLength="2.50" lengthAdjust="spacingAndGlyphs" stroke="#6c6c6c" stroke-width="0.2">/</text>
<text style="white-space:pre" x="191.25" y="472.50" font-size="7.2" fill="#6c6c6c" font-weight="bold" font-style="italic" textLength="16.60" lengthAdjust="spacingAndGlyphs" stroke="#6c6c6c" stroke-width="0.2">Selp</text>
<text style="white-space:pre" x="207.45" y="469.33" font-size="4.9" fill="#6c6c6c" font-weight="bold" font-style="italic" textLength="5.60" lengthAdjust="spacingAndGlyphs" stroke="#6c6c6c" stroke-width="0.2">-/-</text>
<text style="white-space:pre" x="215.15" y="472.50" font-size="7.2" fill="#6c6c6c" font-weight="bold" textLength="15.00" lengthAdjust="spacingAndGlyphs" stroke="#6c6c6c" stroke-width="0.2">[LC]</text>
<text style="white-space:pre" x="73.25" y="479.80" font-size="7.2" fill="#111" font-weight="bold" textLength="29.50" lengthAdjust="spacingAndGlyphs" stroke="#111" stroke-width="0.2">Control:</text>
<text style="white-space:pre" x="105.25" y="479.80" font-size="7.2" fill="#111" font-weight="bold" textLength="11.40" lengthAdjust="spacingAndGlyphs" stroke="#111" stroke-width="0.2">WT</text>
<text style="white-space:pre" x="121.65" y="479.80" font-size="7.2" fill="#111" font-weight="bold" textLength="19.90" lengthAdjust="spacingAndGlyphs" stroke="#111" stroke-width="0.2">[PLT]</text>
<line x1="62.20" y1="484.30" x2="62.20" y2="607.50" stroke="#555" stroke-width="1.0"/>
<line x1="60.00" y1="607.00" x2="62.20" y2="607.00" stroke="#555" stroke-width="0.9"/>
<text style="white-space:pre" x="59.30" y="609.20" font-size="6.3" fill="#222" font-weight="bold" text-anchor="end" stroke="#222" stroke-width="0.2">0</text>
<line x1="60.00" y1="591.68" x2="62.20" y2="591.68" stroke="#555" stroke-width="0.9"/>
<text style="white-space:pre" x="59.30" y="593.88" font-size="6.3" fill="#222" font-weight="bold" text-anchor="end" stroke="#222" stroke-width="0.2">20</text>
<line x1="60.00" y1="576.36" x2="62.20" y2="576.36" stroke="#555" stroke-width="0.9"/>
<text style="white-space:pre" x="59.30" y="578.56" font-size="6.3" fill="#222" font-weight="bold" text-anchor="end" stroke="#222" stroke-width="0.2">40</text>
<line x1="60.00" y1="561.04" x2="62.20" y2="561.04" stroke="#555" stroke-width="0.9"/>
<text style="white-space:pre" x="59.30" y="563.24" font-size="6.3" fill="#222" font-weight="bold" text-anchor="end" stroke="#222" stroke-width="0.2">60</text>
<line x1="60.00" y1="545.72" x2="62.20" y2="545.72" stroke="#555" stroke-width="0.9"/>
<text style="white-space:pre" x="59.30" y="547.92" font-size="6.3" fill="#222" font-weight="bold" text-anchor="end" stroke="#222" stroke-width="0.2">80</text>
<line x1="60.00" y1="530.40" x2="62.20" y2="530.40" stroke="#555" stroke-width="0.9"/>
<text style="white-space:pre" x="59.30" y="532.60" font-size="6.3" fill="#222" font-weight="bold" text-anchor="end" stroke="#222" stroke-width="0.2">100</text>
<line x1="60.00" y1="515.08" x2="62.20" y2="515.08" stroke="#555" stroke-width="0.9"/>
<text style="white-space:pre" x="59.30" y="517.28" font-size="6.3" fill="#222" font-weight="bold" text-anchor="end" stroke="#222" stroke-width="0.2">120</text>
<line x1="60.00" y1="499.76" x2="62.20" y2="499.76" stroke="#555" stroke-width="0.9"/>
<text style="white-space:pre" x="59.30" y="501.96" font-size="6.3" fill="#222" font-weight="bold" text-anchor="end" stroke="#222" stroke-width="0.2">140</text>
<line x1="60.00" y1="484.44" x2="62.20" y2="484.44" stroke="#555" stroke-width="0.9"/>
<text style="white-space:pre" x="59.30" y="486.64" font-size="6.3" fill="#222" font-weight="bold" text-anchor="end" stroke="#222" stroke-width="0.2">160</text>
<line x1="62.00" y1="607.00" x2="244.60" y2="607.00" stroke="#555" stroke-width="1.0"/>
<g transform="translate(23.50,610.40) rotate(-90)">
<text style="white-space:pre" x="0.00" y="0.00" font-size="10.5" fill="#111" textLength="133.00" lengthAdjust="spacingAndGlyphs" stroke="#111" stroke-width="0.2"><tspan>Relative CD14</tspan><tspan font-size="7.35" dy="-4.41">+</tspan><tspan dy="4.41">CD41</tspan><tspan font-size="7.35" dy="-4.41">+</tspan><tspan dy="4.41"> cells</tspan></text>
</g>
<g transform="translate(36.60,614.30) rotate(-90)">
<text style="white-space:pre" x="0.00" y="0.00" font-size="10.5" fill="#111" textLength="138.90" lengthAdjust="spacingAndGlyphs" stroke="#111" stroke-width="0.2"><tspan>(% PLT-LC of untreated naive)</tspan></text>
</g>
<line x1="94.00" y1="527.50" x2="94.00" y2="530.50" stroke="#555" stroke-width="0.8"/>
<line x1="92.40" y1="527.50" x2="95.60" y2="527.50" stroke="#555" stroke-width="0.8"/>
<rect x="91.40" y="530.50" width="5.20" height="76.50" fill="#a0a0a0" stroke="#6a6a6a" stroke-width="0.8"/>
<line x1="119.00" y1="520.00" x2="119.00" y2="525.20" stroke="#333" stroke-width="0.8"/>
<line x1="117.40" y1="520.00" x2="120.60" y2="520.00" stroke="#333" stroke-width="0.8"/>
<rect x="116.40" y="525.20" width="5.20" height="81.80" fill="#fff" stroke="#333" stroke-width="0.8"/>
<line x1="128.20" y1="525.50" x2="128.20" y2="531.70" stroke="#333" stroke-width="0.8"/>
<line x1="126.60" y1="525.50" x2="129.80" y2="525.50" stroke="#333" stroke-width="0.8"/>
<rect x="125.60" y="531.70" width="5.20" height="75.30" fill="#111" stroke="#111" stroke-width="0.8"/>
<line x1="149.20" y1="492.30" x2="149.20" y2="511.40" stroke="#333" stroke-width="0.8"/>
<line x1="147.60" y1="492.30" x2="150.80" y2="492.30" stroke="#333" stroke-width="0.8"/>
<rect x="146.60" y="511.40" width="5.20" height="95.60" fill="#fff" stroke="#333" stroke-width="0.8"/>
<line x1="158.40" y1="509.20" x2="158.40" y2="521.00" stroke="#333" stroke-width="0.8"/>
<line x1="156.80" y1="509.20" x2="160.00" y2="509.20" stroke="#333" stroke-width="0.8"/>
<rect x="155.80" y="521.00" width="5.20" height="86.00" fill="#111" stroke="#111" stroke-width="0.8"/>
<line x1="179.30" y1="508.30" x2="179.30" y2="514.50" stroke="#333" stroke-width="0.8"/>
<line x1="177.70" y1="508.30" x2="180.90" y2="508.30" stroke="#333" stroke-width="0.8"/>
<rect x="176.70" y="514.50" width="5.20" height="92.50" fill="#fff" stroke="#333" stroke-width="0.8"/>
<line x1="188.50" y1="502.00" x2="188.50" y2="512.30" stroke="#333" stroke-width="0.8"/>
<line x1="186.90" y1="502.00" x2="190.10" y2="502.00" stroke="#333" stroke-width="0.8"/>
<rect x="185.90" y="512.30" width="5.20" height="94.70" fill="#111" stroke="#111" stroke-width="0.8"/>
<line x1="210.00" y1="510.80" x2="210.00" y2="513.80" stroke="#333" stroke-width="0.8"/>
<line x1="208.40" y1="510.80" x2="211.60" y2="510.80" stroke="#333" stroke-width="0.8"/>
<rect x="207.40" y="513.80" width="5.20" height="93.20" fill="#fff" stroke="#333" stroke-width="0.8"/>
<line x1="219.20" y1="508.60" x2="219.20" y2="511.40" stroke="#333" stroke-width="0.8"/>
<line x1="217.60" y1="508.60" x2="220.80" y2="508.60" stroke="#333" stroke-width="0.8"/>
<rect x="216.60" y="511.40" width="5.20" height="95.60" fill="#111" stroke="#111" stroke-width="0.8"/>
<text style="white-space:pre" x="45.90" y="628.00" font-size="6.6" fill="#111" font-weight="bold" text-anchor="middle" textLength="45.70" lengthAdjust="spacingAndGlyphs" stroke-width="0" stroke="#111" stroke-width="0.2">Mouse genetic</text>
<text style="white-space:pre" x="45.60" y="634.90" font-size="6.6" fill="#111" font-weight="bold" text-anchor="middle" textLength="36.20" lengthAdjust="spacingAndGlyphs" stroke-width="0" stroke="#111" stroke-width="0.2">background</text>
<text style="white-space:pre" x="94.60" y="629.50" font-size="7.8" fill="#111" font-weight="bold" text-anchor="middle" textLength="11.70" lengthAdjust="spacingAndGlyphs" stroke="#111" stroke-width="0.2">WT</text>
<text style="white-space:pre" x="107.00" y="623.80" font-size="7.4" fill="#4a4a4a" textLength="7.20" lengthAdjust="spacingAndGlyphs" stroke="#4a4a4a" stroke-width="0.2">D:</text>
<text style="white-space:pre" x="107.50" y="640.10" font-size="7.4" fill="#4a4a4a" textLength="7.20" lengthAdjust="spacingAndGlyphs" stroke="#4a4a4a" stroke-width="0.2">R:</text>
<line x1="117.50" y1="615.50" x2="223.75" y2="615.50" stroke="#aaa" stroke-width="0.9"/>
<text style="white-space:pre" x="169.75" y="624.30" font-size="7.3" fill="#6c6c6c" font-weight="bold" text-anchor="middle" textLength="10.90" lengthAdjust="spacingAndGlyphs" stroke="#6c6c6c" stroke-width="0.2">WT</text>
<line x1="117.50" y1="632.50" x2="132.00" y2="632.50" stroke="#c4c4c4" stroke-width="0.8"/>
<line x1="146.25" y1="632.50" x2="161.25" y2="632.50" stroke="#c4c4c4" stroke-width="0.8"/>
<line x1="177.00" y1="632.50" x2="191.25" y2="632.50" stroke="#c4c4c4" stroke-width="0.8"/>
<line x1="206.25" y1="632.50" x2="221.25" y2="632.50" stroke="#c4c4c4" stroke-width="0.8"/>
<text style="white-space:pre" x="125.00" y="641.30" font-size="7.6" fill="#6c6c6c" font-weight="bold" text-anchor="middle" textLength="12.50" lengthAdjust="spacingAndGlyphs" stroke="#6c6c6c" stroke-width="0.2">WT</text>
<text style="white-space:pre" x="138.20" y="641.40" font-size="7.4" fill="#808080" textLength="32.30" lengthAdjust="spacingAndGlyphs" stroke="#808080" stroke-width="0.2"><tspan font-weight="bold" font-style="italic">Fcgr2b</tspan><tspan font-weight="bold" font-style="italic" font-size="5.33" dy="-3.11">-/-</tspan></text>
<text style="white-space:pre" x="171.90" y="641.40" font-size="7.4" fill="#808080" textLength="27.00" lengthAdjust="spacingAndGlyphs" stroke="#808080" stroke-width="0.2"><tspan font-weight="bold" font-style="italic">Fcgr3</tspan><tspan font-weight="bold" font-style="italic" font-size="5.33" dy="-3.11">-/-</tspan></text>
<text style="white-space:pre" x="204.20" y="641.40" font-size="7.4" fill="#808080" textLength="24.70" lengthAdjust="spacingAndGlyphs" stroke="#808080" stroke-width="0.2"><tspan font-weight="bold" font-style="italic">P-sel</tspan><tspan font-weight="bold" font-style="italic" font-size="5.33" dy="-3.11">-/-</tspan></text>
<line x1="117.50" y1="650.00" x2="223.75" y2="650.00" stroke="#555" stroke-width="0.8"/>
<text style="white-space:pre" x="170.40" y="658.90" font-size="7.6" fill="#111" font-weight="bold" text-anchor="middle" textLength="11.75" lengthAdjust="spacingAndGlyphs" stroke="#111" stroke-width="0.2">ITP</text>
</svg>
</body></html>
